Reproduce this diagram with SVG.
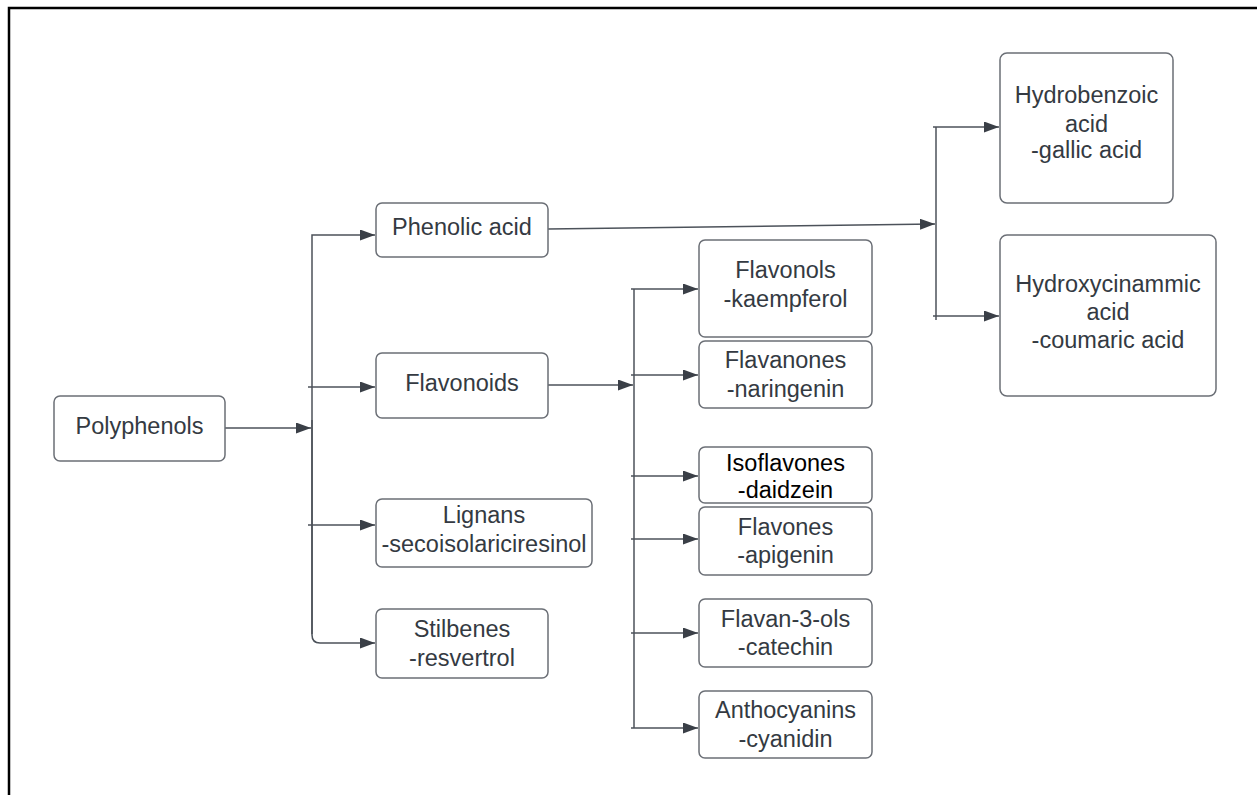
<svg xmlns="http://www.w3.org/2000/svg" width="1257" height="795" viewBox="0 0 1257 795">
<style>
.box{fill:#ffffff;stroke:#6b6f76;stroke-width:1.5}
.t{font-family:"Liberation Sans",Arial,sans-serif;font-size:23.5px;fill:#343a42;text-anchor:middle}
.tb{fill:#000000}
.c{fill:none;stroke:#4c525a;stroke-width:1.5}
.frame{stroke:#000;stroke-width:2.5;fill:none}
</style>
<defs>
<marker id="ah" markerUnits="userSpaceOnUse" markerWidth="16" markerHeight="12" refX="15" refY="5.5" orient="auto">
<path d="M0,0 L15,5.5 L0,11 z" fill="#3a3f47"/>
</marker>
</defs>
<rect width="1257" height="795" fill="#ffffff"/>
<path class="frame" d="M9,795 V8 H1257"/>
<g id="connectors">
<path class="c" d="M225,428 H311" marker-end="url(#ah)"/>
<path class="c" d="M312,634 V235 H375" marker-end="url(#ah)"/>
<path class="c" d="M312,420 V635 Q312,643 320,643 H375" marker-end="url(#ah)"/>
<path class="c" d="M308,387 H375" marker-end="url(#ah)"/>
<path class="c" d="M308,525 H375" marker-end="url(#ah)"/>
<path class="c" d="M548,385 H633" marker-end="url(#ah)"/>
<path class="c" d="M634,289 V728"/>
<path class="c" d="M631,289 H698" marker-end="url(#ah)"/>
<path class="c" d="M631,375 H698" marker-end="url(#ah)"/>
<path class="c" d="M631,476 H698" marker-end="url(#ah)"/>
<path class="c" d="M631,539 H698" marker-end="url(#ah)"/>
<path class="c" d="M631,633 H698" marker-end="url(#ah)"/>
<path class="c" d="M631,728 H698" marker-end="url(#ah)"/>
<path class="c" d="M548,229 L935,224" marker-end="url(#ah)"/>
<path class="c" d="M936,127 V320"/>
<path class="c" d="M933,127 H999" marker-end="url(#ah)"/>
<path class="c" d="M933,316 H999" marker-end="url(#ah)"/>
</g>
<g id="polyphenols">
<rect class="box" x="54" y="396" width="171" height="65" rx="6"/>
<text class="t" x="139.5" y="434">Polyphenols</text>
</g>
<g id="phenolic-acid">
<rect class="box" x="376" y="203" width="172" height="54" rx="6"/>
<text class="t" x="462" y="235">Phenolic acid</text>
</g>
<g id="flavonoids">
<rect class="box" x="376" y="353" width="172" height="65" rx="6"/>
<text class="t" x="462" y="391">Flavonoids</text>
</g>
<g id="lignans">
<rect class="box" x="376" y="499" width="216" height="68" rx="6"/>
<text class="t" x="484" y="523">Lignans</text>
<text class="t" x="484" y="552">-secoisolariciresinol</text>
</g>
<g id="stilbenes">
<rect class="box" x="376" y="609" width="172" height="69" rx="6"/>
<text class="t" x="462" y="637">Stilbenes</text>
<text class="t" x="462" y="666">-resvertrol</text>
</g>
<g id="flavonols">
<rect class="box" x="699" y="240" width="173" height="97" rx="6"/>
<text class="t" x="785.5" y="278">Flavonols</text>
<text class="t" x="785.5" y="307">-kaempferol</text>
</g>
<g id="flavanones">
<rect class="box" x="699" y="341" width="173" height="67" rx="6"/>
<text class="t" x="785.5" y="368">Flavanones</text>
<text class="t" x="785.5" y="397">-naringenin</text>
</g>
<g id="isoflavones">
<rect class="box" x="699" y="447" width="173" height="56" rx="6"/>
<text class="t tb" x="785.5" y="471">Isoflavones</text>
<text class="t tb" x="785.5" y="498">-daidzein</text>
</g>
<g id="flavones">
<rect class="box" x="699" y="507" width="173" height="68" rx="6"/>
<text class="t" x="785.5" y="535">Flavones</text>
<text class="t" x="785.5" y="563">-apigenin</text>
</g>
<g id="flavan-3-ols">
<rect class="box" x="699" y="599" width="173" height="68" rx="6"/>
<text class="t" x="785.5" y="627">Flavan-3-ols</text>
<text class="t" x="785.5" y="655">-catechin</text>
</g>
<g id="anthocyanins">
<rect class="box" x="699" y="691" width="173" height="67" rx="6"/>
<text class="t" x="785.5" y="718">Anthocyanins</text>
<text class="t" x="785.5" y="747">-cyanidin</text>
</g>
<g id="hydrobenzoic">
<rect class="box" x="1000" y="53" width="173" height="150" rx="7"/>
<text class="t" x="1086.5" y="103">Hydrobenzoic</text>
<text class="t" x="1086.5" y="132">acid</text>
<text class="t" x="1086.5" y="158">-gallic acid</text>
</g>
<g id="hydroxycinammic">
<rect class="box" x="1000" y="235" width="216" height="161" rx="7"/>
<text class="t" x="1108" y="292">Hydroxycinammic</text>
<text class="t" x="1108" y="320">acid</text>
<text class="t" x="1108" y="348">-coumaric acid</text>
</g>
</svg>
